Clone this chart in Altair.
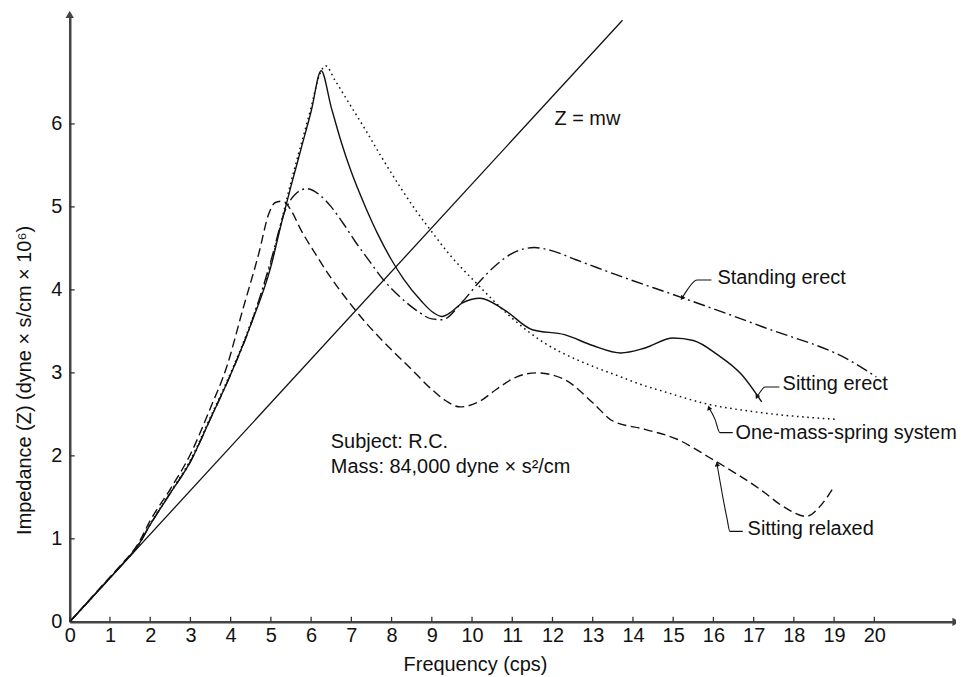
import altair as alt
import pandas as pd

# ---------------- data ----------------
erect_f = [0, 1, 1.3, 1.7, 2, 2.5, 3, 3.5, 4, 4.5, 5, 5.25, 5.5, 5.75, 6, 6.25, 6.5, 6.75,
           7.0, 7.35, 7.67, 8.0, 8.3, 8.75, 9.0, 9.25, 9.5, 9.75, 10.2, 10.8, 11.5, 12.3,
           13.0, 13.7, 14.3, 15.0, 15.5, 16.1, 16.7, 17.2]
erect_z = [0, 0.53, 0.69, 0.92, 1.17, 1.55, 1.93, 2.45, 2.98, 3.58, 4.28, 4.78, 5.25, 5.7,
           6.15, 6.64, 6.2, 5.78, 5.42, 5.0, 4.66, 4.36, 4.13, 3.86, 3.74, 3.68, 3.74, 3.84,
           3.9, 3.76, 3.52, 3.46, 3.33, 3.24, 3.3, 3.42, 3.39, 3.22, 2.98, 2.65]

spring_f = [0, 1, 1.3, 1.7, 2, 2.5, 3, 3.5, 4, 4.5, 5, 5.5, 6, 6.2, 6.36, 6.6, 6.93, 7.35,
            7.75, 8.2, 8.6, 9.0, 9.4, 10.15, 10.97, 11.8, 12.6, 13.1, 13.6, 14.2, 14.8,
            15.8, 17.2, 19.06]
spring_z = [0, 0.53, 0.69, 0.92, 1.18, 1.56, 1.95, 2.47, 3.0, 3.6, 4.32, 5.3, 6.2, 6.58,
            6.70, 6.52, 6.26, 5.93, 5.6, 5.25, 4.96, 4.7, 4.45, 4.06, 3.67, 3.36, 3.16, 3.06,
            2.97, 2.86, 2.77, 2.63, 2.52, 2.44]

standing_f = [0, 1, 1.3, 1.7, 2, 2.5, 3, 3.5, 4, 4.5, 5, 5.35, 5.6, 5.9, 6.2, 6.5, 6.8,
              7.1, 7.4, 7.8, 8.2, 8.6, 9.0, 9.25, 9.75, 10.15, 10.6, 11.0, 11.55, 12.0, 12.6,
              13.1, 13.6, 15.2, 17.25, 19.5, 20.05]
standing_z = [0, 0.53, 0.69, 0.92, 1.17, 1.55, 1.93, 2.45, 2.98, 3.58, 4.35, 4.95, 5.15,
              5.22, 5.15, 5.0, 4.8, 4.58, 4.38, 4.12, 3.92, 3.76, 3.65, 3.64, 3.85, 4.08,
              4.3, 4.44, 4.51, 4.47, 4.36, 4.27, 4.18, 3.91, 3.55, 3.12, 2.95]

relaxed_f = [0, 1, 1.3, 1.7, 2, 2.5, 3, 3.5, 3.9, 4.3, 4.7, 4.95, 5.1, 5.3, 5.5, 5.75, 6.1,
             6.5, 6.93, 7.35, 7.75, 8.5, 9.0, 9.33, 9.7, 10.2, 10.6, 11.1, 11.6, 12.3, 13.0,
             13.5, 14.3, 15.1, 15.9, 17.15, 17.8, 18.3, 18.7, 19.0]
relaxed_z = [0, 0.54, 0.7, 0.94, 1.22, 1.6, 2.02, 2.58, 3.07, 3.76, 4.44, 4.92, 5.05, 5.07,
             4.96, 4.72, 4.44, 4.14, 3.86, 3.61, 3.40, 3.04, 2.8, 2.67, 2.59, 2.66, 2.8,
             2.95, 3.0, 2.92, 2.64, 2.42, 2.32, 2.2, 1.98, 1.6, 1.37, 1.27, 1.42, 1.63]

mw_f = [0, 13.74]
mw_z = [0, 7.25]

x_ticks = list(range(0, 21))
y_ticks = list(range(0, 7))
x_max = 22.03
y_max = 7.32

label_text = ["Z = mw", "Standing erect", "Sitting erect", "One-mass-spring system",
              "Sitting relaxed", "Subject: R.C.", "Mass: 84,000 dyne \u00d7 s\u00b2/cm"]
label_f = [12.05, 16.1, 17.72, 16.55, 16.85, 6.49, 6.49]
label_z = [6.06, 4.14, 2.86, 2.28, 1.12, 2.17, 1.87]

# leader lines (from label to curve)
lead_standing_f = [15.95, 15.59, 15.35, 15.22]
lead_standing_z = [4.12, 4.12, 4.0, 3.90]
lead_erect_f = [17.64, 17.28, 17.15, 17.08]
lead_erect_z = [2.83, 2.83, 2.76, 2.71]
lead_spring_f = [16.48, 16.16, 16.04, 15.89]
lead_spring_z = [2.28, 2.28, 2.44, 2.58]
lead_relaxed_f = [16.73, 16.41, 16.34, 16.09]
lead_relaxed_z = [1.09, 1.09, 1.24, 1.90]

# ---------------- chart ----------------
FONT = "Liberation Sans"
W, H = 890, 610
INK = "#111111"

xs = alt.Scale(domain=[0, x_max], nice=False, zero=False)
ys = alt.Scale(domain=[0, y_max], nice=False, zero=False)

x_axis = alt.Axis(values=x_ticks, ticks=False, grid=False, labelFontSize=20, labelFont=FONT,
                  labelColor=INK, labelPadding=4, labelFlush=False, labelOverlap=False,
                  title="Frequency (cps)", titleFont=FONT, titleFontSize=20,
                  titleFontWeight="normal", titleColor=INK, titlePadding=9, titleX=407,
                  domainColor="#444444", domainWidth=2.5)
y_axis = alt.Axis(values=y_ticks, ticks=False, grid=False, labelFontSize=20, labelFont=FONT,
                  labelColor=INK, labelPadding=8, labelFlush=False, labelOverlap=False,
                  title="Impedance (Z) (dyne \u00d7 s/cm \u00d7 10\u2076)", titleFont=FONT,
                  titleFontSize=20, titleFontWeight="normal", titleColor=INK,
                  titlePadding=16, titleY=367,
                  domainColor="#444444", domainWidth=2.5)

X = alt.X("f:Q", scale=xs, axis=x_axis)
Y = alt.Y("z:Q", scale=ys, axis=y_axis)


def frame(f, z):
    return pd.DataFrame({"f": f, "z": z, "i": list(range(len(f)))})


def curve(f, z, dash=None, width=1.4):
    kw = dict(color=INK, strokeWidth=width, interpolate="monotone", clip=True)
    if dash:
        kw["strokeDash"] = dash
    return alt.Chart(frame(f, z)).mark_line(**kw).encode(x=X, y=Y, order="i:Q")


layers = []

# Z = mw straight line
layers.append(alt.Chart(frame(mw_f, mw_z)).mark_line(color=INK, strokeWidth=1.3)
              .encode(x=X, y=Y, order="i:Q"))

layers.append(curve(erect_f, erect_z))
layers.append(curve(spring_f, spring_z, dash=[1.6, 3.6], width=1.5))
layers.append(curve(standing_f, standing_z, dash=[12, 4, 2, 4]))
layers.append(curve(relaxed_f, relaxed_z, dash=[9, 4.5]))

# tick marks (inward)
xt = pd.DataFrame({"f": x_ticks})
layers.append(alt.Chart(xt).mark_rule(color="#333333", strokeWidth=1.3).encode(
    x=X, y=alt.value(H), y2=alt.value(H - 5)))
yt = pd.DataFrame({"z": y_ticks})
layers.append(alt.Chart(yt).mark_rule(color="#333333", strokeWidth=1.3).encode(
    y=Y, x=alt.value(0), x2=alt.value(5)))

# axis arrowheads
layers.append(alt.Chart(pd.DataFrame({"f": [x_max], "z": [0]})).mark_point(
    shape="triangle-right", filled=True, size=70, color="#444444", opacity=1).encode(x=X, y=Y))
layers.append(alt.Chart(pd.DataFrame({"f": [0], "z": [y_max]})).mark_point(
    shape="triangle-up", filled=True, size=70, color="#444444", opacity=1).encode(x=X, y=Y))

# leader lines and their arrowheads
leaders = [
    (lead_standing_f, lead_standing_z, 214),
    (lead_erect_f, lead_erect_z, 207),
    (lead_spring_f, lead_spring_z, 342),
    (lead_relaxed_f, lead_relaxed_z, 351),
]
for lf, lz, ang in leaders:
    layers.append(alt.Chart(frame(lf, lz)).mark_line(color=INK, strokeWidth=1.1,
                                                     interpolate="monotone")
                  .encode(x=X, y=Y, order="i:Q"))
    layers.append(alt.Chart(pd.DataFrame({"f": [lf[-1]], "z": [lz[-1]]})).mark_point(
        shape="triangle-up", filled=True, size=28, color=INK, opacity=1, angle=ang)
        .encode(x=X, y=Y))

# text labels
lab = pd.DataFrame({"f": label_f, "z": label_z, "t": label_text})
layers.append(alt.Chart(lab).mark_text(align="left", baseline="middle", font=FONT,
                                       fontSize=20, color=INK)
              .encode(x=X, y=Y, text="t:N"))

chart = alt.layer(*layers).properties(
    width=W, height=H,
    autosize=alt.AutoSizeParams(type="none"),
    padding={"left": 62, "top": 5, "right": 0, "bottom": 54},
    background="white",
).configure_view(stroke=None)

chart.save("out.html", embed_options={"renderer": "svg", "actions": False})
